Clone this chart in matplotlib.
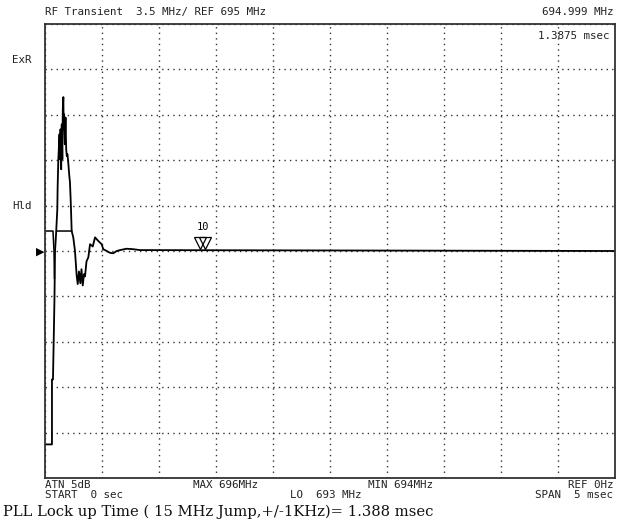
import numpy as np
import matplotlib
matplotlib.use("Agg")
import matplotlib.pyplot as plt

# time in msec, level in divisions from the reference line
t_live = [0, 0.061, 0.061, 0.070, 0.083, 0.088, 0.097, 0.108, 0.111, 0.117, 0.121,
          0.127, 0.132, 0.136, 0.142, 0.147, 0.152, 0.156, 0.161, 0.164, 0.168,
          0.174, 0.180, 0.186, 0.191, 0.197, 0.204, 0.212, 0.219, 0.225, 0.228,
          0.234, 0.248, 0.263, 0.278, 0.287, 0.298, 0.310, 0.320, 0.331, 0.342,
          0.351, 0.364, 0.380, 0.395, 0.419, 0.439, 0.468, 0.497, 0.511, 0.541,
          0.570, 0.599, 0.629, 0.658, 0.717, 0.772, 0.833, 5.0]
y_live = [-4.26, -4.26, -2.83, -2.83, -1.06, 0.0, 0.37, 0.92, 1.43, 2.02, 2.24,
          2.57, 2.02, 2.68, 1.80, 2.79, 2.02, 3.12, 3.39, 2.68, 3.01,
          2.35, 2.94, 2.24, 2.09, 2.13, 1.95, 1.69, 1.51, 1.14, 0.92,
          0.44, 0.30, 0.0, -0.55, -0.73, -0.45, -0.71, -0.40, -0.76, -0.51,
          -0.56, -0.23, -0.14, 0.15, 0.10, 0.30, 0.22, 0.15, 0.04, 0.0,
          -0.04, -0.05, 0.0, 0.02, 0.05, 0.04, 0.02, 0.0]

t_hold = [0, 0.070, 0.079, 0.083, np.nan, 0.108, 0.234]
y_hold = [0.44, 0.44, 0.0, -0.6, np.nan, 0.44, 0.44]

marker_t = 1.3875
span_ms = 5.0

fig = plt.figure(figsize=(6.23, 5.27), dpi=100)
ax = fig.add_axes([45/623, 49/527, 570/623, 454/527])

ax.plot(t_live, y_live, color="black", lw=1.3)
ax.plot(t_hold, y_hold, color="black", lw=1.1)

# delta marker (two overlapping triangles)
ax.plot([marker_t - 0.03], [0.18], marker="v", ms=8, mfc="white", mec="black", mew=0.9)
ax.plot([marker_t + 0.02], [0.18], marker="v", ms=8, mfc="none", mec="black", mew=0.9)
ax.text(marker_t, 0.42, "10", fontsize=7.5, family="DejaVu Sans Mono", ha="center", va="bottom")

ax.set_xlim(0, span_ms)
ax.set_ylim(-5, 5)
ax.set_xticks(np.linspace(0, span_ms, 11))
ax.set_yticks(np.arange(-5, 6, 1))
ax.grid(True, color="#333333", linestyle=(0, (1, 3)), lw=1.0)
ax.tick_params(left=False, bottom=False, labelleft=False, labelbottom=False)
for s in ax.spines.values():
    s.set_color("#333333")
    s.set_linewidth(1.3)

mono = dict(family="DejaVu Sans Mono", fontsize=7.8, color="#222222")

def ftxt(x, y, s, ha="left", **kw):
    d = dict(mono)
    d.update(kw)
    fig.text(x/623, 1 - y/527, s, ha=ha, va="center", **d)

ftxt(45, 12, "RF Transient  3.5 MHz/ REF 695 MHz")
ftxt(613, 12, "694.999 MHz", ha="right")
ftxt(610, 36, "1.3875 msec", ha="right")
ftxt(12, 60, "ExR")
ftxt(12, 206, "Hld")
ftxt(45, 485, "ATN 5dB")
ftxt(193, 485, "MAX 696MHz")
ftxt(368, 485, "MIN 694MHz")
ftxt(613, 485, "REF 0Hz", ha="right")
ftxt(45, 495, "START  0 sec")
ftxt(290, 495, "LO  693 MHz")
ftxt(613, 495, "SPAN  5 msec", ha="right")
fig.text(3/623, 1 - 512/527, "PLL Lock up Time ( 15 MHz Jump,+/-1KHz)= 1.388 msec",
         family="DejaVu Serif", fontsize=10.6, ha="left", va="center", color="#111111")

# reference level pointer at the left edge
fig.text(40/623, 1 - 252/527, "\u25B6", fontsize=8, ha="center", va="center", color="black")

fig.savefig("out.png", dpi=100)
